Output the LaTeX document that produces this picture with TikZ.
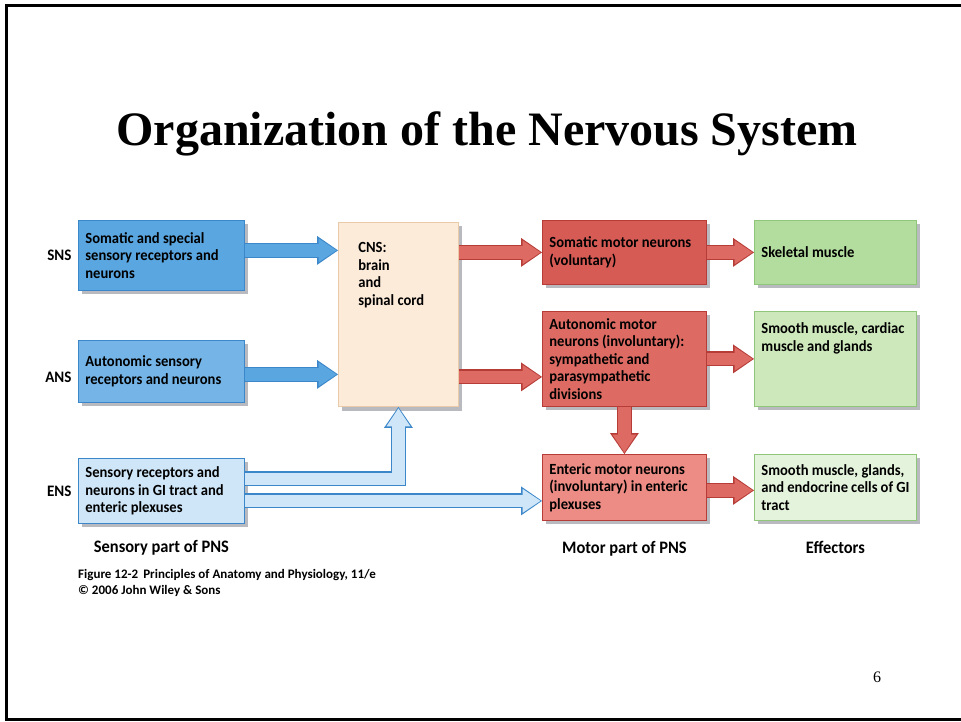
\documentclass[tikz,border=0pt]{standalone}
\usepackage{fontspec}
\setmainfont{Liberation Serif}
\newfontfamily\boxfont{Carlito}[FakeStretch=0.94]
\newfontfamily\capfont{Carlito}
\usepackage{tikz}
\usetikzlibrary{positioning,arrows.meta,shadows}

% fills and borders
\definecolor{snsfill}{HTML}{5AA6E0}
\definecolor{ansfill}{HTML}{74B4E7}
\definecolor{ensfill}{HTML}{CFE6F8}
\definecolor{blueline}{HTML}{3C87C9}
\definecolor{cnsfill}{HTML}{FDEBDA}
\definecolor{cnsline}{HTML}{E9CBAA}
\definecolor{redfillA}{HTML}{D65B55}
\definecolor{redfillB}{HTML}{DD6B63}
\definecolor{redfillC}{HTML}{EC8C84}
\definecolor{redline}{HTML}{B63C37}
\definecolor{grnfillA}{HTML}{B3DC9F}
\definecolor{grnfillB}{HTML}{CDE9BC}
\definecolor{grnfillC}{HTML}{E4F3DB}
\definecolor{grnline}{HTML}{8FC679}
\definecolor{shadowgray}{HTML}{A8A8B0}

\tikzset{
  box/.style={draw=#1, line width=0.8pt, anchor=north west, inner xsep=7pt,
    inner ysep=5pt, align=flush left, font=\boxfont\bfseries\fontsize{15.5}{17.5}\selectfont,
    drop shadow={shadow xshift=4pt, shadow yshift=-4pt, fill=shadowgray, opacity=0.8}},
  fatarrow/.style 2 args={line width=12.5pt, draw=#1, shorten >=1.5pt,
    -{Triangle[length=18pt, width=24pt, line width=0pt]},
    preaction={draw=#2, line width=15pt, shorten >=0pt,
      -{Triangle[length=21pt, width=29pt, line width=0pt]}}},
  side/.style={font=\boxfont\bfseries\fontsize{16}{18}\selectfont},
  part/.style={font=\boxfont\bfseries\fontsize{17.5}{20}\selectfont},
}

\begin{document}
\begin{tikzpicture}[x=1pt, y=-1pt]
\useasboundingbox (0,0) rectangle (961,722);
\clip (0,0) rectangle (961,722);
% slide frame, its right side lies off the page
\draw[line width=3pt] (1000,6) -- (6,6) -- (6,719.5) -- (1000,719.5);

\node[font=\bfseries\fontsize{48}{52}\selectfont, anchor=base] (title) at (487,146)
  {Organization of the Nervous System};

% sensory side
\node[box=blueline, fill=snsfill, minimum width=166pt, minimum height=70pt, text width=152pt]
  (sns) at (78,220) {Somatic and special\\sensory receptors and\\neurons};
\node[box=blueline, fill=ansfill, minimum width=166pt, minimum height=62pt, text width=152pt]
  (ans) at (78,340) {Autonomic sensory\\receptors and neurons};
\node[box=blueline, fill=ensfill, minimum width=166pt, minimum height=65pt, text width=152pt]
  (ens) at (78,458) {Sensory receptors and\\neurons in GI tract and\\enteric plexuses};

\node[side, left=3pt of sns] (snslab) {SNS};
\node[side, left=3pt of ans, yshift=-6pt] (anslab) {ANS};
\node[side, left=3pt of ens] (enslab) {ENS};

% central box
\node[box=cnsline, fill=cnsfill, minimum width=120pt, minimum height=183pt, text width=80pt,
  inner xsep=20pt, inner ysep=20pt, text depth=134pt]
  (cns) at (338,222) {CNS:\\brain\\and\\spinal cord};

% motor side
\node[box=redline, fill=redfillA, minimum width=164pt, minimum height=64pt, text width=150pt]
  (som) at (542,220) {Somatic motor neurons\\(voluntary)};
\node[box=redline, fill=redfillB, minimum width=164pt, minimum height=95pt, text width=150pt]
  (aut) at (542,311) {Autonomic motor\\neurons (involuntary):\\sympathetic and\\parasympathetic\\divisions};
\node[box=redline, fill=redfillC, minimum width=164pt, minimum height=66pt, text width=150pt]
  (ent) at (542,454) {Enteric motor neurons\\(involuntary) in enteric\\plexuses};

% effectors
\node[box=grnline, fill=grnfillA, minimum width=162pt, minimum height=64pt, text width=148pt]
  (skel) at (754,220) {Skeletal muscle};
\node[box=grnline, fill=grnfillB, minimum width=162pt, minimum height=95pt, text width=148pt,
  inner ysep=9pt, text depth=61pt]
  (smc) at (754,311) {Smooth muscle, cardiac\\muscle and glands};
\node[box=grnline, fill=grnfillC, minimum width=162pt, minimum height=66pt, text width=148pt]
  (smg) at (754,454) {Smooth muscle, glands,\\and endocrine cells of GI\\tract};

% column captions
\node[part, below=13pt of ens] (senspart) {Sensory part of PNS};
\node[part, below=17pt of ent] (motpart) {Motor part of PNS};
\node[part, below=17pt of smg] (effpart) {Effectors};

\node[anchor=north west, align=left, inner sep=0pt,
  font=\capfont\bfseries\fontsize{13}{16}\selectfont] (credit) at (78,569)
  {Figure 12-2\, Principles of Anatomy and Physiology, 11/e\\\textcopyright{} 2006 John Wiley \& Sons};

\node[font=\fontsize{16}{18}\selectfont] (pagenum) at (877,677) {6};

% arrows
\coordinate (snsout) at ([yshift=5pt]sns.east);
\coordinate (ansout) at ([yshift=-3pt]ans.east);
\coordinate (ensup) at ([yshift=12pt]ens.east);
\coordinate (ensout) at ([yshift=-10pt]ens.east);
\coordinate (autin) at ([yshift=-18pt]aut.west);
\coordinate (smgin) at ([yshift=-3pt]smg.west);

\draw[fatarrow={snsfill}{blueline}] (snsout) -- (snsout -| cns.west);
\draw[fatarrow={snsfill}{blueline}] (ansout) -- (ansout -| cns.west);
\draw[fatarrow={ensfill}{blueline}] (ensup) -| (cns.south);
\draw[fatarrow={ensfill}{blueline}] (ensout) -- (ensout -| ent.west);

\draw[fatarrow={redfillB}{redline}] (cns.east |- som.west) -- (som.west);
\draw[fatarrow={redfillB}{redline}] (autin -| cns.east) -- (autin);
\draw[fatarrow={redfillB}{redline}] (som.east) -- (skel.west);
\draw[fatarrow={redfillB}{redline}] (aut.east) -- (smc.west);
\draw[fatarrow={redfillB}{redline}] (aut.south) -- (ent.north);
\draw[fatarrow={redfillB}{redline}] (smgin -| ent.east) -- (smgin);
\end{tikzpicture}
\end{document}
